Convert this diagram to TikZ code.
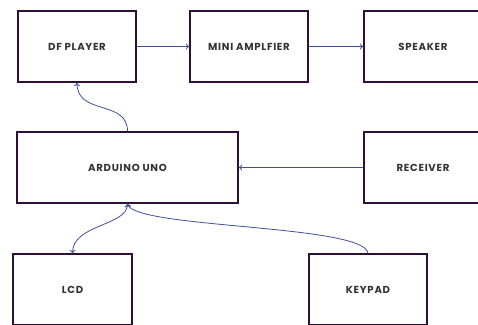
\documentclass[tikz,border=0pt]{standalone}
\usepackage{fontspec}
\setmainfont{Poppins}[LetterSpace=7]
\usetikzlibrary{arrows.meta}
\definecolor{boxline}{HTML}{2E1036}
\definecolor{arrowc}{HTML}{3F4F98}
\definecolor{txt}{HTML}{333333}
\tikzset{
  blk/.style={draw=boxline, line width=1.3pt, fill=white, inner sep=0pt,
    minimum width=118bp, minimum height=71bp, font=\fontsize{10.2}{11}\selectfont\bfseries, text=txt},
  conn/.style={draw=arrowc, line width=0.8pt, -{To[length=3.5pt,width=6pt]}},
  conn2/.style={draw=arrowc, line width=0.8pt, {To[length=3.5pt,width=6pt]}-{To[length=3.5pt,width=6pt]}}
}
\begin{document}
\begin{tikzpicture}[x=1bp,y=-1bp]
\useasboundingbox (0,0) rectangle (478,324);
\begin{scope}
\clip (0,0) rectangle (478,324);
\node[blk] (df) at (77,46.5) {DF PLAYER};
\node[blk] (amp) at (249,46.5) {MINI AMPLFIER};
\node[blk] (spk) at (423,46.5) {SPEAKER};
\node[blk, minimum width=221bp] (ard) at (127.5,167.5) {ARDUINO UNO};
\node[blk] (rcv) at (423,167.5) {RECEIVER};
\node[blk, minimum width=119bp] (lcd) at (72.5,289.5) {LCD};
\node[blk] (kp) at (368,289.5) {KEYPAD};
\draw[conn] (df.east) -- (amp.west);
\draw[conn] (amp.east) -- (spk.west);
\draw[conn] (rcv.west) -- (ard.east);
\draw[conn] (ard.north) .. controls +(0,-32) and +(0,33) .. (df.south);
\draw[conn2] (ard.south) .. controls +(0,22) and +(0,-29) .. (lcd.north);
\draw[conn] (kp.north) .. controls +(-3,-29) and +(7,25) .. (ard.south);
\end{scope}
\end{tikzpicture}
\end{document}
